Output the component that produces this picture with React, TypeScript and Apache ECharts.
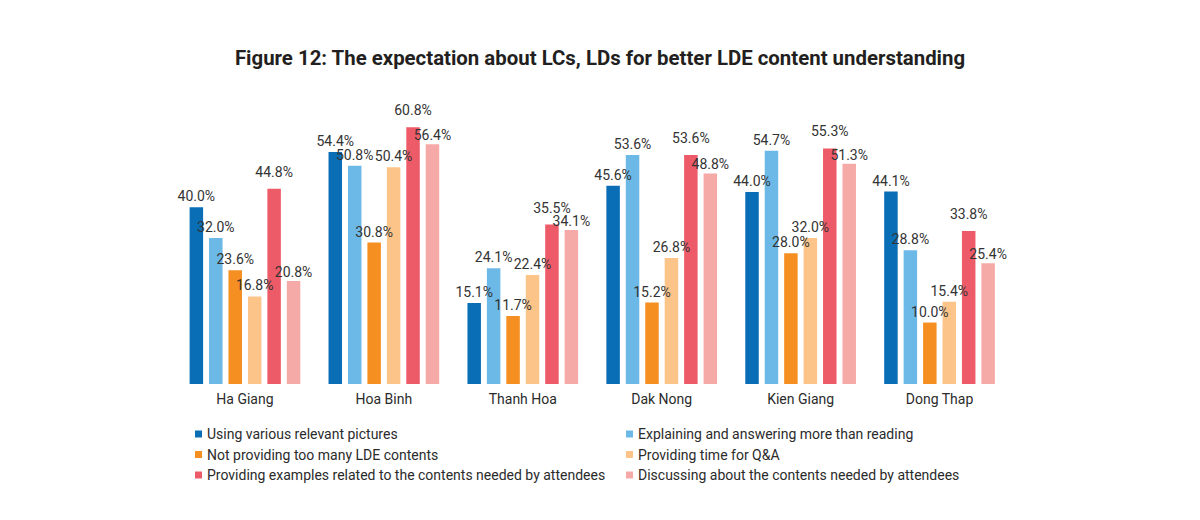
import React, { useEffect, useRef } from "react";
import * as echarts from "echarts";

const titleText = "Figure 12: The expectation about LCs, LDs for better LDE content understanding";
const provinces = ["Ha Giang", "Hoa Binh", "Thanh Hoa", "Dak Nong", "Kien Giang", "Dong Thap"];
const seriesNames = [
  "Using various relevant pictures",
  "Explaining and answering more than reading",
  "Not providing too many LDE contents",
  "Providing time for Q&A",
  "Providing examples related to the contents needed by attendees",
  "Discussing about the contents needed by attendees",
];
const usingPictures = [40.0, 54.4, 15.1, 45.6, 44.0, 44.1];
const explaining = [32.0, 50.8, 24.1, 53.6, 54.7, 28.8];
const notTooMany = [23.6, 30.8, 11.7, 15.2, 28.0, 10.0];
const timeQA = [16.8, 50.4, 22.4, 26.8, 32.0, 15.4];
const examples = [44.8, 60.8, 35.5, 53.6, 55.3, 33.8];
const discussing = [20.8, 56.4, 34.1, 48.8, 51.3, 25.4];
const seriesValues = [usingPictures, explaining, notTooMany, timeQA, examples, discussing];
const colors = ["#0A6EB6", "#6CB8E6", "#F58F22", "#FDC48A", "#EE5B68", "#F6AAA7"];
const labelDistances = [4, 4, 4, 4, 10, 2];

const FONT = "Roboto, 'Noto Sans', sans-serif";

export default function App() {
  const ref = useRef<HTMLDivElement>(null);
  useEffect(() => {
    if (!ref.current) return;
    const chart = echarts.init(ref.current, undefined, { renderer: "svg" });
    const legendText = { fontFamily: FONT, fontSize: 14, color: "#2b2b2b" };
    chart.setOption({
      animation: false,
      backgroundColor: "#ffffff",
      color: colors,
      title: {
        text: titleText,
        left: "center",
        top: 48,
        padding: 0,
        textStyle: { fontFamily: FONT, fontSize: 20.4, fontWeight: "bold", color: "#231F20" },
      },
      legend: [
        {
          orient: "vertical",
          left: 195,
          top: 427,
          padding: 0,
          itemWidth: 7,
          itemHeight: 7,
          itemGap: 6.5,
          icon: "rect",
          data: [seriesNames[0], seriesNames[2], seriesNames[4]],
          textStyle: legendText,
        },
        {
          orient: "vertical",
          left: 626,
          top: 427,
          padding: 0,
          itemWidth: 7,
          itemHeight: 7,
          itemGap: 6.5,
          icon: "rect",
          data: [seriesNames[1], seriesNames[3], seriesNames[5]],
          textStyle: legendText,
        },
      ],
      grid: { left: 175.5, right: 191, top: 92, bottom: 136, containLabel: false },
      xAxis: {
        type: "category",
        data: provinces,
        axisLine: { show: false },
        axisTick: { show: false },
        axisLabel: { fontFamily: FONT, fontSize: 14, color: "#2b2b2b", margin: 8 },
      },
      yAxis: {
        type: "value",
        min: -6,
        max: 70,
        startValue: -6,
        show: false,
        splitLine: { show: false },
      },
      series: seriesNames.map((name, i) => ({
        name,
        type: "bar",
        data: seriesValues[i],
        barWidth: 13.5,
        barGap: "44%",
        itemStyle: { color: colors[i] },
        label: {
          show: true,
          position: "top",
          distance: labelDistances[i],
          fontFamily: FONT,
          fontSize: 14,
          color: "#333333",
          formatter: (p: any) => Number(p.value).toFixed(1) + "%",
        },
      })),
    });
    return () => chart.dispose();
  }, []);
  return (
    <div
      ref={ref}
      style={{ position: "absolute", left: 0, top: 0, width: 1200, height: 520 }}
    />
  );
}
